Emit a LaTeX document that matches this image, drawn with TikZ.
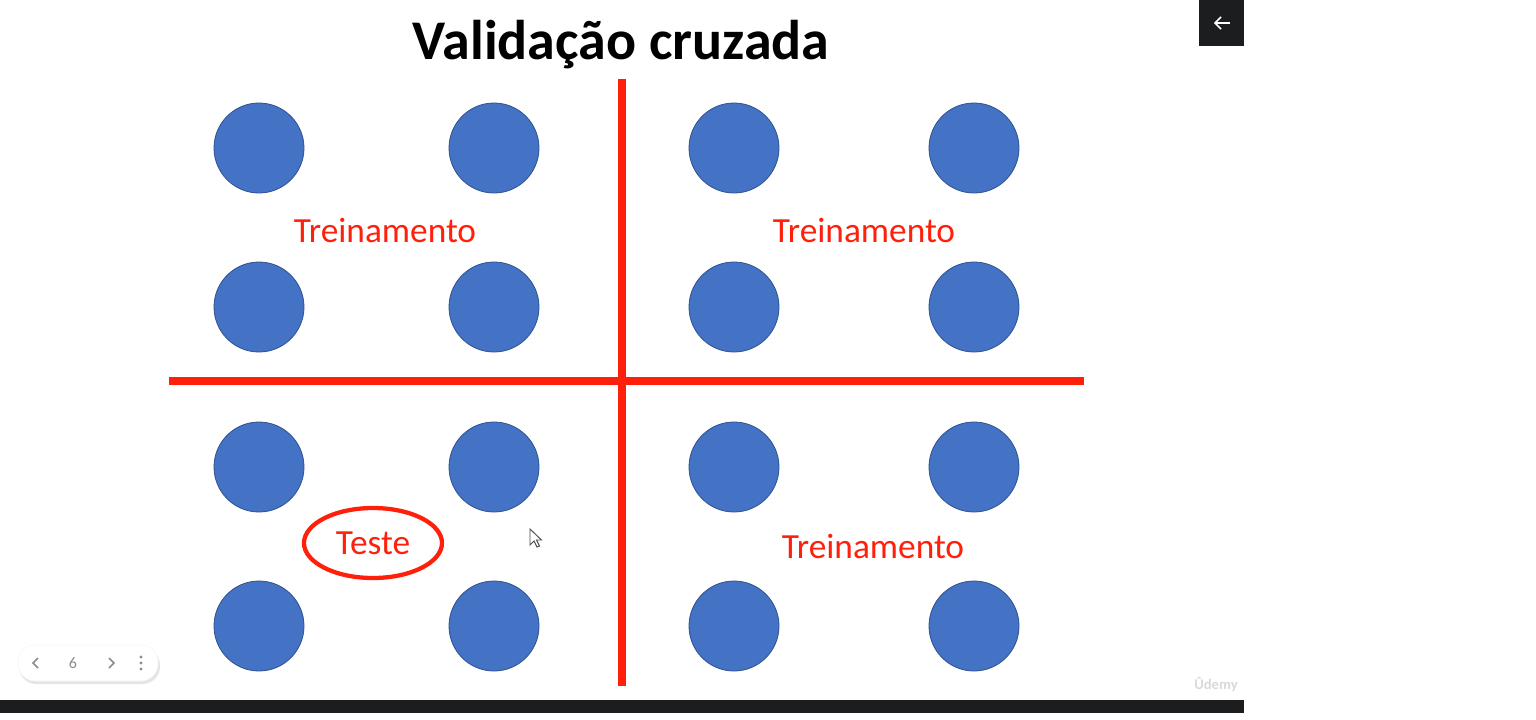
\documentclass[tikz,border=0pt]{standalone}
\usepackage{fontspec}
\setmainfont{Carlito}
\usepackage{tikz}

\definecolor{slidered}{RGB}{255,32,12}
\definecolor{dotblue}{RGB}{68,114,196}
\definecolor{dotedge}{RGB}{47,82,143}
\definecolor{barblack}{RGB}{28,29,31}

\begin{document}
\begin{tikzpicture}[x=0.75pt,y=0.75pt,yscale=-1,xscale=1]
\useasboundingbox (0,0) rectangle (1536,719);
\fill[white] (0,0) rectangle (1536,719);

%Shape: Rectangle [id:bar]
\fill[barblack] (0,700) rectangle (1244,713);
%Shape: Rectangle [id:backbox]
\fill[barblack] (1199,0) rectangle (1244,46);
%Straight Lines [id:backarrow]
\draw[white, line width=1.3] (1230,23) -- (1215,23) ;
\draw[white, line width=1.3] (1221,17) -- (1215,23) -- (1221,29) ;

%Straight Lines [id:vline]
\draw[slidered, line width=6] (622,79) -- (622,686) ;
%Straight Lines [id:hline]
\draw[slidered, line width=5.5] (169,381) -- (1084,381) ;

%Shape: Circle [id:c11]
\draw[dotedge, fill=dotblue, line width=0.6] (259,148) circle (45) ;
%Shape: Circle [id:c12]
\draw[dotedge, fill=dotblue, line width=0.6] (494,148) circle (45) ;
%Shape: Circle [id:c13]
\draw[dotedge, fill=dotblue, line width=0.6] (734,148) circle (45) ;
%Shape: Circle [id:c14]
\draw[dotedge, fill=dotblue, line width=0.6] (974,148) circle (45) ;
%Shape: Circle [id:c21]
\draw[dotedge, fill=dotblue, line width=0.6] (259,307) circle (45) ;
%Shape: Circle [id:c22]
\draw[dotedge, fill=dotblue, line width=0.6] (494,307) circle (45) ;
%Shape: Circle [id:c23]
\draw[dotedge, fill=dotblue, line width=0.6] (734,307) circle (45) ;
%Shape: Circle [id:c24]
\draw[dotedge, fill=dotblue, line width=0.6] (974,307) circle (45) ;
%Shape: Circle [id:c31]
\draw[dotedge, fill=dotblue, line width=0.6] (259,467) circle (45) ;
%Shape: Circle [id:c32]
\draw[dotedge, fill=dotblue, line width=0.6] (494,467) circle (45) ;
%Shape: Circle [id:c33]
\draw[dotedge, fill=dotblue, line width=0.6] (734,467) circle (45) ;
%Shape: Circle [id:c34]
\draw[dotedge, fill=dotblue, line width=0.6] (974,467) circle (45) ;
%Shape: Circle [id:c41]
\draw[dotedge, fill=dotblue, line width=0.6] (259,626) circle (45) ;
%Shape: Circle [id:c42]
\draw[dotedge, fill=dotblue, line width=0.6] (494,626) circle (45) ;
%Shape: Circle [id:c43]
\draw[dotedge, fill=dotblue, line width=0.6] (734,626) circle (45) ;
%Shape: Circle [id:c44]
\draw[dotedge, fill=dotblue, line width=0.6] (974,626) circle (45) ;

%Shape: Ellipse [id:testring]
\draw[slidered, line width=3.2] (373,543) ellipse (69 and 35) ;

%Shape: Rounded Rectangle [id:navpill]
\fill[black!10, rounded corners=13] (19,648) rectangle (160,684) ;
\draw[black!4, fill=white, rounded corners=13] (18,645) rectangle (158,681) ;
%Straight Lines [id:navprev]
\draw[black!45, line width=1.1] (38,658) -- (33,663) -- (38,668) ;
%Straight Lines [id:navnext]
\draw[black!45, line width=1.1] (109,658) -- (114,663) -- (109,668) ;
%Shape: Circle [id:navdots]
\fill[black!45] (141,657) circle (1.6) (141,663) circle (1.6) (141,669) circle (1.6) ;

%Shape: Polygon [id:cursor]
\draw[black!70, fill=white, line width=0.7] (530,529) -- (530,545) -- (534,541) -- (537,547) -- (539.5,546) -- (536.5,540) -- (541.5,540) -- cycle ;

% Text Node
\node[font=\bfseries\fontsize{42}{48}\selectfont, text=black] (title) at (621,45) {Validação cruzada};
% Text Node
\node[font=\fontsize{26.5}{30}\selectfont, text=slidered] (trainA) at (385,230) {Treinamento};
% Text Node
\node[font=\fontsize{26.5}{30}\selectfont, text=slidered] (trainB) at (864,230) {Treinamento};
% Text Node
\node[font=\fontsize{26.5}{30}\selectfont, text=slidered] (trainC) at (873,546) {Treinamento};
% Text Node
\node[font=\fontsize{26.5}{30}\selectfont, text=slidered] (test) at (373,543) {Teste};
% Text Node
\node[font=\fontsize{12}{14}\selectfont, text=black!45] (page) at (73,663) {6};
% Text Node
\node[font=\bfseries\fontsize{11}{12}\selectfont, text=black!15] (mark) at (1216,685) {Ûdemy};

\end{tikzpicture}
\end{document}
